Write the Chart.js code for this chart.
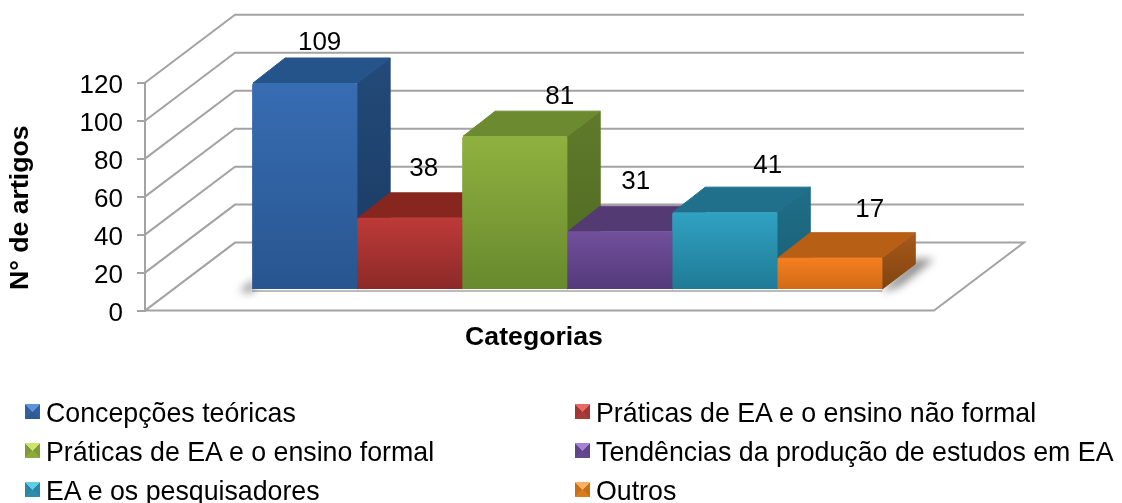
<!DOCTYPE html>
<html>
<head>
<meta charset="utf-8">
<script src="https://cdn.jsdelivr.net/npm/chart.js@4/dist/chart.umd.min.js"></script>
<style>
  html, body { margin: 0; background: #fff; overflow: hidden; }
  #wrap { position: relative; width: 1122px; height: 503px; font-family: "Liberation Sans", Arial, sans-serif; }
  #grafico { position: absolute; left: 0; top: 0; }
  .item { position: absolute; font-size: 26.75px; line-height: 30px; height: 30px; color: #000; white-space: nowrap; padding-left: 21px; }
  .item i { position: absolute; left: 0; top: 6px; width: 15px; height: 15px; }
</style>
</head>
<body>
<div id="wrap">
  <canvas id="grafico" width="1122" height="503"></canvas>
  <div id="legenda"></div>
</div>
<script>
const categorias = ['Concepções teóricas', 'Práticas de EA e o ensino não formal', 'Práticas de EA e o ensino formal',
  'Tendências da produção de estudos em EA', 'EA e os pesquisadores', 'Outros'];
const artigos = [109, 38, 81, 31, 41, 17];
const eixoY = [0, 20, 40, 60, 80, 100, 120];

// cores de cada barra
const frenteTopo = ['#376db3', '#bd3a38', '#8fb13f', '#72509c', '#30a2c2', '#f57f20'];
const frenteBase = ['#28558f', '#8b2a28', '#68892d', '#53397a', '#1f7a96', '#d06a16'];
const corTopo = ['#25548b', '#86261f', '#6c8a2f', '#543a72', '#20708c', '#b85f16'];
const ladoTopo = ['#234a7a', '#7a2320', '#5f7a2a', '#4a3266', '#1f6e88', '#a8591a'];
const ladoBase = ['#1a3a60', '#65201c', '#4e6a22', '#3e2a56', '#1b5f76', '#80440f'];
const icone = [['#5f93dc', '#33609c', '#2f5a94'], ['#e86a66', '#a03634', '#a83a38'], ['#cde26f', '#7f9a3a', '#8cab3c'],
  ['#a584d4', '#5f4488', '#64488f'], ['#62cce8', '#2a86a3', '#2c8dac'], ['#fbb060', '#c87018', '#d87c20']];

// deslocamento manual dos rótulos
const rotuloDx = [15, 14, 45, 16, 43, 40];
const rotuloDy = [-40, -49, -39, -49, -46, -48];

// perspectiva do gráfico 3D
const fundoX = 90, fundoY = 68;
const barraX = 33.2, barraY = -20.6;
const profX = 33, profY = 25;
const linha = '#a3a3a3';
const fonteTitulo = { family: 'Liberation Sans', size: 26.67, weight: 'bold' };
const fonteNum = { family: 'Liberation Sans', size: 26 };

const efeito3d = {
  id: 'efeito3d',
  beforeDatasetsDraw(chart) {
    const { ctx, chartArea: a, scales: { y } } = chart;
    const dirFrente = a.right + 11;
    ctx.save();
    ctx.strokeStyle = linha;
    ctx.lineWidth = 2;
    eixoY.forEach(v => {
      const py = y.getPixelForValue(v);
      ctx.beginPath();
      ctx.moveTo(a.left, py);
      ctx.lineTo(a.left + fundoX, py - fundoY);
      ctx.lineTo(dirFrente + fundoX, py - fundoY);
      if (v === 0) {
        ctx.lineTo(dirFrente, py);
        ctx.lineTo(a.left, py);
      }
      ctx.stroke();
    });

    // sombras no chão
    const b0 = chart.getDatasetMeta(0).data[0];
    const b5 = chart.getDatasetMeta(5).data[0];
    const esq = b0.x - b0.width / 2 + barraX;
    const dir = b5.x + b5.width / 2 + barraX;
    const base = y.getPixelForValue(0) + barraY;
    ctx.filter = 'blur(4px)';
    ctx.fillStyle = 'rgba(90,90,90,0.7)';
    ctx.beginPath();
    ctx.moveTo(esq + 2, base - 11);
    ctx.lineTo(esq + 2, base + 2);
    ctx.lineTo(esq - 13, base + 2);
    ctx.fill();
    ctx.beginPath();
    ctx.moveTo(dir, base);
    ctx.lineTo(dir + profX, base - profY - 6);
    ctx.lineTo(dir + profX + 19, base - profY - 6);
    ctx.lineTo(dir + 18, base - 4);
    ctx.lineTo(dir + 4, base + 1);
    ctx.fill();
    ctx.filter = 'none';
    ctx.fillStyle = 'rgba(120,120,120,0.5)';
    ctx.fillRect(esq, base, dir - esq, 2);
    ctx.restore();

    // as barras ficam no meio da profundidade do chão
    ctx.save();
    ctx.translate(barraX, barraY);

    // lados e topos primeiro, da esquerda para a direita; as frentes vêm depois
    categorias.forEach((c, i) => {
      const bar = chart.getDatasetMeta(i).data[0];
      const l = bar.x - bar.width / 2, r = bar.x + bar.width / 2;
      const t = bar.y, b = bar.base;

      const lg = ctx.createLinearGradient(0, t - profY, 0, b);
      lg.addColorStop(0, ladoTopo[i]);
      lg.addColorStop(1, ladoBase[i]);
      ctx.fillStyle = lg;
      ctx.strokeStyle = lg;
      ctx.lineWidth = 1;
      ctx.lineJoin = 'round';
      ctx.beginPath();
      ctx.moveTo(r, t);
      ctx.lineTo(r + profX, t - profY);
      ctx.lineTo(r + profX, b - profY);
      ctx.lineTo(r, b);
      ctx.closePath();
      ctx.fill();
      ctx.stroke();

      ctx.fillStyle = corTopo[i];
      ctx.strokeStyle = corTopo[i];
      ctx.beginPath();
      ctx.moveTo(l + 1, t);
      ctx.lineTo(l + profX, t - profY);
      ctx.lineTo(r + profX, t - profY);
      ctx.lineTo(r, t);
      ctx.closePath();
      ctx.fill();
      ctx.stroke();
    });
  },
  afterDatasetsDraw(chart) {
    const { ctx } = chart;
    ctx.restore();
    ctx.save();
    ctx.fillStyle = '#000';
    ctx.font = fonteNum.size + 'px "Liberation Sans"';
    ctx.textAlign = 'center';
    ctx.textBaseline = 'middle';
    artigos.forEach((v, i) => {
      const bar = chart.getDatasetMeta(i).data[0];
      ctx.fillText(v, bar.x + barraX + rotuloDx[i], bar.y + barraY + rotuloDy[i]);
    });
    ctx.restore();
  }
};

new Chart(document.getElementById('grafico'), {
  type: 'bar',
  data: {
    labels: ['Categorias'],
    datasets: categorias.map((c, i) => ({
      label: c,
      data: [artigos[i]],
      clip: false,
      backgroundColor(cx) {
        const { chartArea, scales } = cx.chart;
        if (!chartArea) return frenteTopo[i];
        const g = cx.chart.ctx.createLinearGradient(0, scales.y.getPixelForValue(artigos[i]), 0, scales.y.getPixelForValue(0));
        g.addColorStop(0, frenteTopo[i]);
        g.addColorStop(1, frenteBase[i]);
        return g;
      },
      borderRadius: 2,
      categoryPercentage: 0.81,
      barPercentage: 1
    }))
  },
  options: {
    responsive: false,
    animation: false,
    layout: { padding: { top: 82.7, right: 199, bottom: 149, left: 0 } },
    plugins: { legend: { display: false }, tooltip: { enabled: false } },
    scales: {
      x: {
        afterFit(s) { s.height = 43.4; },
        grid: { display: false },
        border: { display: false },
        ticks: { display: false },
        title: {
          display: true,
          text: 'Categorias',
          color: '#000',
          font: fonteTitulo,
          padding: { top: 11.4, bottom: 0 }
        }
      },
      y: {
        min: 0,
        max: 120,
        afterFit(s) { s.width = 145; },
        afterBuildTicks(s) { s.ticks = eixoY.map(v => ({ value: v })); },
        grid: { drawOnChartArea: false, drawTicks: true, tickLength: 8, color: linha, lineWidth: 2 },
        border: { display: true, color: linha, width: 2 },
        ticks: { color: '#000', padding: 14, labelOffset: 3, font: fonteNum },
        title: {
          display: true,
          text: 'N° de artigos\u00a0\u00a0\u00a0',
          color: '#000',
          font: fonteTitulo,
          padding: { top: 5, bottom: 0 }
        }
      }
    }
  },
  plugins: [efeito3d]
});

// legenda em duas colunas
const legenda = document.getElementById('legenda');
categorias.forEach((c, i) => {
  const d = document.createElement('div');
  d.className = 'item';
  d.style.left = (i % 2 ? 575 : 25) + 'px';
  d.style.top = (398 + Math.floor(i / 2) * 39) + 'px';
  const [claro, lado, baixo] = icone[i];
  d.innerHTML = `<i style="background:conic-gradient(${claro} 0 45deg, ${lado} 45deg 135deg, ${baixo} 135deg 225deg, ${lado} 225deg 315deg, ${claro} 315deg)"></i>${c}`;
  legenda.appendChild(d);
});
</script>
</body>
</html>
